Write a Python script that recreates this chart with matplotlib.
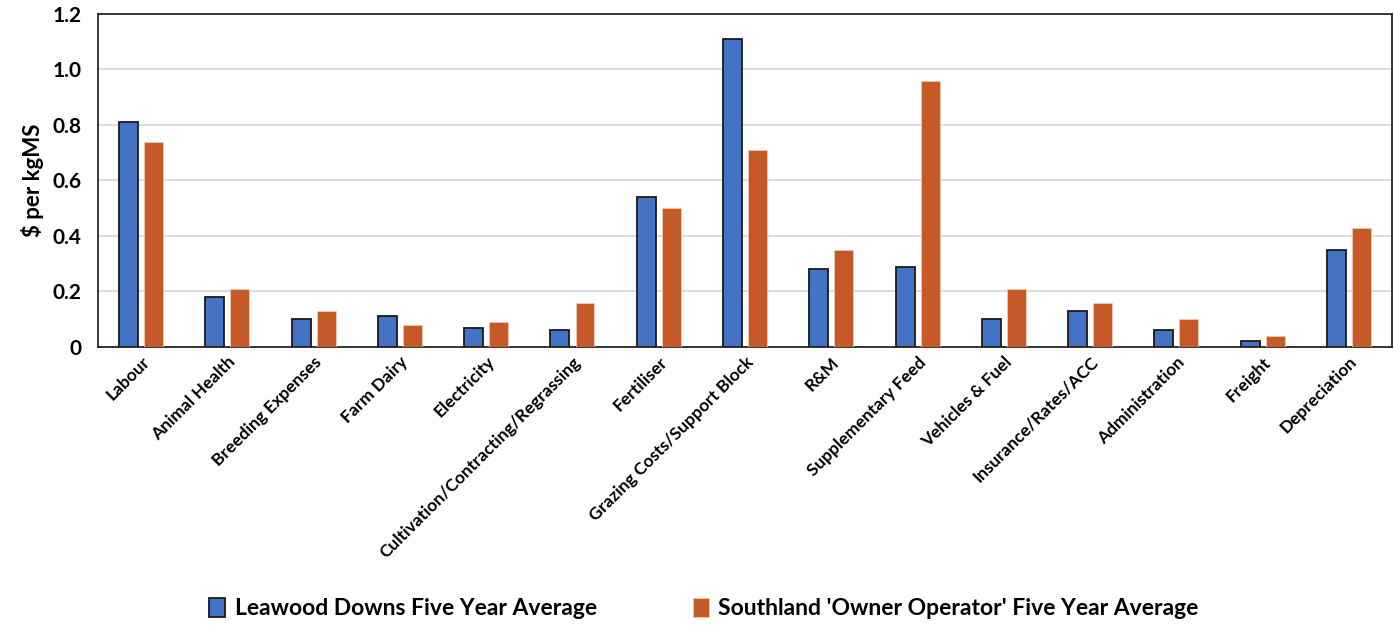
import matplotlib
matplotlib.use("Agg")
import matplotlib.pyplot as plt
import numpy as np

categories = ["Labour", "Animal Health", "Breeding Expenses", "Farm Dairy", "Electricity",
              "Cultivation/Contracting/Regrassing", "Fertiliser", "Grazing Costs/Support Block",
              "R&M", "Supplementary Feed", "Vehicles & Fuel", "Insurance/Rates/ACC",
              "Administration", "Freight", "Depreciation"]
leawood = [0.81, 0.18, 0.10, 0.11, 0.07, 0.06, 0.54, 1.11, 0.28, 0.29, 0.10, 0.13, 0.06, 0.02, 0.35]
southland = [0.74, 0.21, 0.13, 0.08, 0.09, 0.16, 0.50, 0.71, 0.35, 0.96, 0.21, 0.16, 0.10, 0.04, 0.43]
yticks = [0, 0.2, 0.4, 0.6, 0.8, 1.0, 1.2]
ytick_labels = ["0", "0.2", "0.4", "0.6", "0.8", "1.0", "1.2"]

plt.rcParams["font.family"] = ["Lato", "DejaVu Sans"]
plt.rcParams["font.weight"] = "bold"

fig = plt.figure(figsize=(13.94, 6.26), dpi=100)
ax = fig.add_axes([0.0703, 0.4457, 0.9283, 0.532])

x = np.arange(len(categories))
w = 0.22
ax.bar(x - 0.145, leawood, w, color="#4472C4", edgecolor="#1a1a1a", linewidth=1.3,
       label="Leawood Downs Five Year Average", zorder=3)
ax.bar(x + 0.145, southland, w, color="#C55A28", edgecolor="#F0C8B0", linewidth=0.6,
       label="Southland 'Owner Operator' Five Year Average", zorder=3)

ax.set_xlim(-0.5, len(categories) - 0.5)
ax.set_ylim(0, 1.2)
ax.set_yticks(yticks)
ax.set_yticklabels(ytick_labels, fontsize=15, fontweight="bold")
ax.set_xticks(x)
ax.set_xticklabels(categories, rotation=45, ha="right", rotation_mode="anchor",
                   fontsize=12.5, fontweight="bold")
ax.tick_params(axis="x", length=0, pad=5)
ax.tick_params(axis="y", length=0, pad=12)
ax.grid(axis="y", color="#D9D9D9", linewidth=1.3, zorder=0)
for s in ax.spines.values():
    s.set_color("#262626")
    s.set_linewidth(1.3)
ax.set_ylabel("$ per kgMS", fontsize=16, fontweight="bold", labelpad=6)

fig.legend(loc="center", bbox_to_anchor=(0.505, 0.028), ncol=2, frameon=False,
           handlelength=0.7, handleheight=0.9, handletextpad=0.4,
           columnspacing=4.2, prop={"weight": "bold", "size": 16.5})

fig.savefig("out.png", dpi=100)
